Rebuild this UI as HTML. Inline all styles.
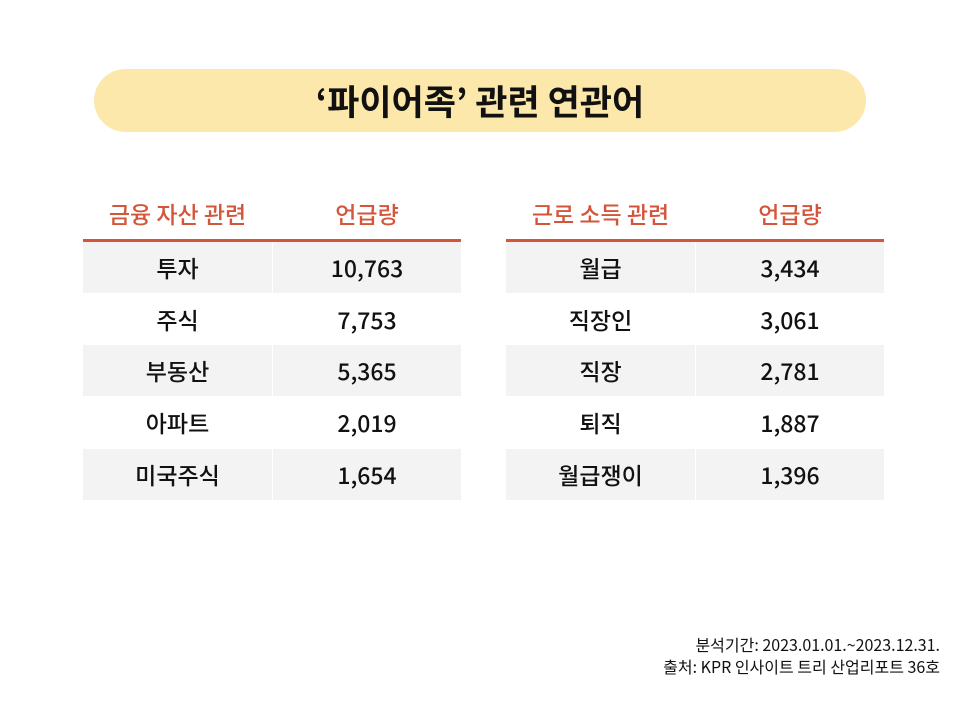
<!DOCTYPE html>
<html><head><meta charset="utf-8"><style>
*{margin:0;padding:0;box-sizing:border-box}
body{width:960px;height:711px;background:#fff;position:relative;overflow:hidden;font-family:"Noto Sans CJK KR","Liberation Sans",sans-serif;color:#111}
.pill{position:absolute;left:94px;top:69px;width:772px;height:63px;border-radius:32px;background:#fde8ac;text-align:center;line-height:63px;font-size:35px;font-weight:bold}
.t{position:absolute;text-align:center}
.h{color:#d4553a;font-size:23px;font-weight:500;line-height:30px;top:198px}
.line{position:absolute;top:239px;height:3px;background:#d4553a;width:378px}
.cell{position:absolute;height:51px;line-height:51px;font-size:23px;text-align:center;font-weight:500}
.g{background:#f3f3f3}
.note{position:absolute;right:20px;font-size:16px;line-height:21px;text-align:right}
</style></head><body>
<div class="pill">‘파이어족’ 관련 연관어</div>

<div class="t h" style="left:83px;width:189px">금융 자산 관련</div>
<div class="t h" style="left:273px;width:188px">언급량</div>
<div class="line" style="left:83px"></div>

<div class="t h" style="left:506px;width:189px">근로 소득 관련</div>
<div class="t h" style="left:696px;width:188px">언급량</div>
<div class="line" style="left:506px"></div>

<div class="cell g" style="left:83px;top:242px;width:189px">투자</div>
<div class="cell g" style="left:273px;top:242px;width:188px">10,763</div>
<div class="cell" style="left:83px;top:294px;width:189px">주식</div>
<div class="cell" style="left:273px;top:294px;width:188px">7,753</div>
<div class="cell g" style="left:83px;top:345px;width:189px">부동산</div>
<div class="cell g" style="left:273px;top:345px;width:188px">5,365</div>
<div class="cell" style="left:83px;top:397px;width:189px">아파트</div>
<div class="cell" style="left:273px;top:397px;width:188px">2,019</div>
<div class="cell g" style="left:83px;top:449px;width:189px">미국주식</div>
<div class="cell g" style="left:273px;top:449px;width:188px">1,654</div>

<div class="cell g" style="left:506px;top:242px;width:189px">월급</div>
<div class="cell g" style="left:696px;top:242px;width:188px">3,434</div>
<div class="cell" style="left:506px;top:294px;width:189px">직장인</div>
<div class="cell" style="left:696px;top:294px;width:188px">3,061</div>
<div class="cell g" style="left:506px;top:345px;width:189px">직장</div>
<div class="cell g" style="left:696px;top:345px;width:188px">2,781</div>
<div class="cell" style="left:506px;top:397px;width:189px">퇴직</div>
<div class="cell" style="left:696px;top:397px;width:188px">1,887</div>
<div class="cell g" style="left:506px;top:449px;width:189px">월급쟁이</div>
<div class="cell g" style="left:696px;top:449px;width:188px">1,396</div>

<div class="note" style="top:634px">분석기간: 2023.01.01.~2023.12.31.</div>
<div class="note" style="top:656px">출처: KPR 인사이트 트리 산업리포트 36호</div>
</body></html>
